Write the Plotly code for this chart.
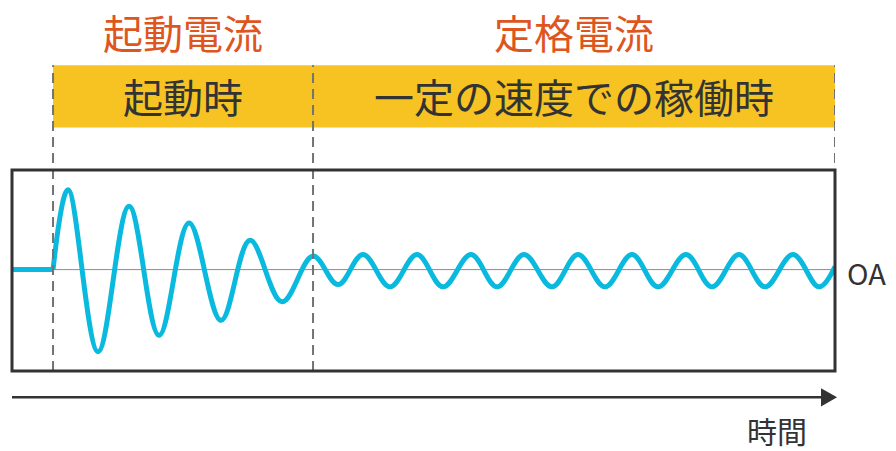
import plotly.graph_objects as go

# ---- data (time in ms, current in multiples of rated peak) ----
idle_t = [-15.2, 0.0]
idle_i = [0.0, 0.0]

# motor start, then the extrema of the current wave, then the end value
wave_t = [0.0,
          5.56, 16.67, 28.15, 39.26, 50.37, 62.22, 72.96, 84.81, 96.30,
          105.56, 114.81, 124.81, 134.81, 144.44, 154.81, 164.44, 174.44,
          184.81, 194.44, 204.44, 214.44, 224.07, 234.44, 244.07, 254.07,
          263.70, 274.07, 283.70,
          289.63]
wave_i = [0.0,
          5.33, -5.47, 4.23, -4.38, 3.10, -3.38, 1.95, -2.15, 0.90,
          -1.0, 1.0, -1.15, 1.0, -1.15, 1.0, -1.15, 1.0,
          -1.15, 1.0, -1.15, 1.0, -1.15, 1.0, -1.15, 1.0,
          -1.15, 1.0, -1.15,
          0.2]

start_t = 0.0        # motor start
steady_t = 96.30     # start of steady operation
end_t = 289.63       # end of observation

phase_titles = ["起動電流", "定格電流"]
phase_labels = ["起動時", "一定の速度での稼働時"]
zero_label = "OA"
time_label = "時間"

FONT = "Noto Sans CJK JP"
BLUE = "#0ABADE"
ORANGE = "#DE561E"
YELLOW = "#F6C323"
DARK = "#333333"
DASH_C = "#737373"

fig = go.Figure()
fig.add_trace(go.Scatter(x=idle_t, y=idle_i, mode="lines",
                         line=dict(color=BLUE, width=5), hoverinfo="skip"))
fig.add_trace(go.Scatter(x=wave_t, y=wave_i, mode="lines",
                         line=dict(color=BLUE, width=5, shape="spline", smoothing=1.05),
                         hoverinfo="skip"))

band_y0, band_y1 = 1.212, 1.521
shapes = [
    # zero line
    dict(type="line", xref="paper", yref="y", x0=0, x1=1, y0=0, y1=0,
         line=dict(color="#8c8c8c", width=1), layer="below"),
    # yellow band
    dict(type="rect", xref="x", yref="paper", x0=start_t, x1=end_t,
         y0=band_y0, y1=band_y1, fillcolor=YELLOW, line=dict(width=0), layer="below"),
]
for xv in [start_t, steady_t, end_t]:
    shapes.append(dict(type="line", xref="x", yref="paper", x0=xv, x1=xv,
                       y0=0, y1=band_y1,
                       line=dict(color=DASH_C, width=2, dash="10px,6px")))
# frame
shapes.append(dict(type="rect", xref="paper", yref="paper", x0=0, x1=1, y0=0, y1=1,
                   line=dict(color=DARK, width=3)))
# time arrow
arrow_y = -0.131
shapes.append(dict(type="line", xref="paper", yref="paper", x0=0, x1=0.986,
                   y0=arrow_y, y1=arrow_y, line=dict(color=DARK, width=2.5)))
shapes.append(dict(type="path", xref="paper", yref="paper",
                   path=f"M 0.983 {arrow_y+0.045} L 1.0025 {arrow_y} L 0.983 {arrow_y-0.045} Z",
                   fillcolor=DARK, line=dict(width=0)))

mids = [(start_t + steady_t) / 2, (steady_t + end_t) / 2]
annotations = []
for m, title, lab in zip(mids, phase_titles, phase_labels):
    annotations.append(dict(x=m, y=1.685, xref="x", yref="paper", text=title,
                            xanchor="center", yanchor="middle", showarrow=False,
                            font=dict(family=FONT, size=40, color=ORANGE)))
    annotations.append(dict(x=m, y=1.367, xref="x", yref="paper", text=lab,
                            xanchor="center", yanchor="middle", showarrow=False,
                            font=dict(family=FONT, size=40, color=DARK)))
annotations.append(dict(x=1.012, y=-0.15, xref="paper", yref="y", text=zero_label,
                        xanchor="left", yanchor="middle", showarrow=False,
                        font=dict(family=FONT, size=29, color=DARK)))
annotations.append(dict(x=0.9295, y=-0.295, xref="paper", yref="paper", text=time_label,
                        xanchor="center", yanchor="middle", showarrow=False,
                        font=dict(family=FONT, size=30, color=DARK)))

fig.update_layout(
    width=896, height=451,
    margin=dict(l=12, r=61, t=170, b=80),
    paper_bgcolor="white", plot_bgcolor="white",
    showlegend=False,
    xaxis=dict(range=[-15.2, 289.63], visible=False, showgrid=False, zeroline=False),
    yaxis=dict(range=[-6.76, 6.64], visible=False, showgrid=False, zeroline=False),
    shapes=shapes, annotations=annotations,
)

# remove the browser's default page margin so the figure fills the window exactly
fig.write_html("out.html",
               config={"displayModeBar": False},
               post_script="document.body.style.margin='0';document.body.style.overflow='hidden';")
